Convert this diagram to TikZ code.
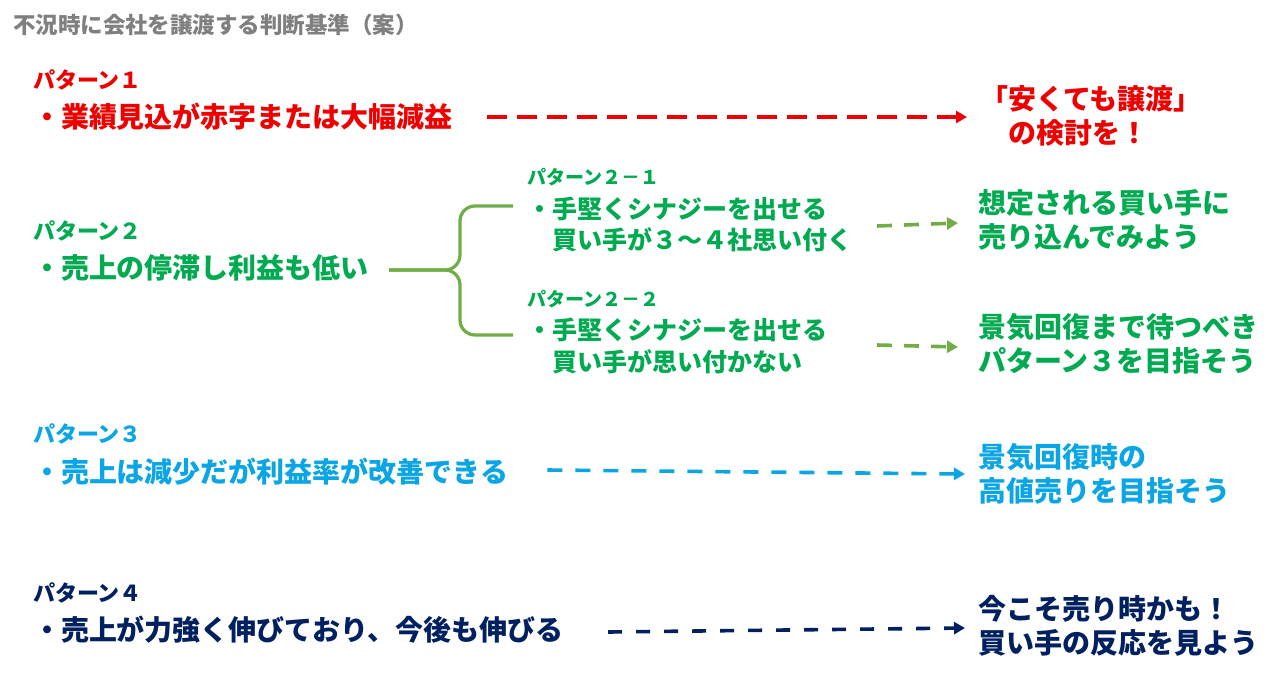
\documentclass[tikz,border=0pt]{standalone}
\usepackage{fontspec}
\setmainfont{Noto Sans CJK JP}
\usetikzlibrary{arrows.meta}
\definecolor{cred}{RGB}{238,0,0}
\definecolor{cgreen}{RGB}{0,170,80}
\definecolor{cbrace}{HTML}{70AD47}
\definecolor{cblue}{RGB}{10,165,228}
\definecolor{cnavy}{HTML}{002060}
\definecolor{cgray}{HTML}{7F7F7F}
\tikzset{
  txt/.style={anchor=west, inner sep=0pt, outer sep=0pt, align=left, font=\bfseries},
  big/.style={txt, font=\fontsize{28}{34}\selectfont\bfseries},
  mid/.style={txt, font=\fontsize{25}{31.5}\selectfont\bfseries},
  lab/.style={txt, font=\fontsize{22}{26}\selectfont\bfseries},
  sublab/.style={txt, font=\fontsize{19}{23}\selectfont\bfseries},
  darrow/.style={line width=3.6pt, -{Triangle[length=11pt,width=12pt]}},
}
\begin{document}
\begin{tikzpicture}[x=1pt,y=-1pt]
\useasboundingbox (0,0) rectangle (1275,678);

% title
\node[txt, font=\fontsize{22.5}{26}\selectfont\bfseries, text=cgray] (title) at (13,25) {不況時に会社を譲渡する判断基準（案）};

% pattern 1
\node[lab, text=cred] (p1) at (33,80) {パターン１};
\node[big, text=cred] (m1) at (33,117) {・業績見込が赤字または大幅減益};
\node[big, text=cred] (r1) at (980,116) {「安くても譲渡」\\　の検討を！};
\draw[darrow, cred, dash pattern=on 20pt off 10pt] ([xshift=34pt]m1.east) -- ([xshift=-13pt]r1.west |- m1.east);

% pattern 2
\node[lab, text=cgreen] (p2) at (33,231) {パターン２};
\node[big, text=cgreen] (m2) at (33,268) {・売上の停滞し利益も低い};
\node[sublab, text=cgreen] (p21) at (527,177) {パターン２－１};
\node[mid, text=cgreen] (s21) at (527,224.5) {・手堅くシナジーを出せる\\　買い手が３～４社思い付く};
\node[sublab, text=cgreen] (p22) at (527,299) {パターン２－２};
\node[mid, text=cgreen] (s22) at (527,346) {・手堅くシナジーを出せる\\　買い手が思い付かない};
\node[big, text=cgreen] (r21) at (978,220) {想定される買い手に\\売り込んでみよう};
\node[big, text=cgreen] (r22) at (978,344) {景気回復まで待つべき\\パターン３を目指そう};

\coordinate (bk) at ([xshift=20pt,yshift=-2pt]m2.east);
\coordinate (bt) at (513,206);
\coordinate (bb) at (513,335);
\draw[cbrace, line width=3.2pt, rounded corners=15pt] (bk) -- (460,270) -- (460,206) -- (bt);
\draw[cbrace, line width=3.2pt, rounded corners=15pt] (bk) -- (460,270) -- (460,335) -- (bb);

\draw[darrow, cbrace, dash pattern=on 15pt off 12pt] ([xshift=25pt,yshift=-1.5pt]s21.east) -- ([xshift=-20pt]r21.west |- 0,223);
\draw[darrow, cbrace, dash pattern=on 15pt off 12pt] ([xshift=50pt,yshift=1pt]s22.east) -- ([xshift=-20pt]r22.west |- 0,347);

% pattern 3
\node[lab, text=cblue] (p3) at (33,434) {パターン３};
\node[big, text=cblue] (m3) at (33,472) {・売上は減少だが利益率が改善できる};
\node[big, text=cblue] (r3) at (978,474) {景気回復時の\\高値売りを目指そう};
\draw[darrow, cblue, dash pattern=on 15pt off 13pt] ([xshift=39pt,yshift=2pt]m3.east) -- ([xshift=-13pt]r3.west);

% pattern 4
\node[lab, text=cnavy] (p4) at (33,593) {パターン４};
\node[big, text=cnavy] (m4) at (33,630) {・売上が力強く伸びており、今後も伸びる};
\node[big, text=cnavy] (r4) at (978,626) {今こそ売り時かも！\\買い手の反応を見よう};
\draw[darrow, cnavy, dash pattern=on 14pt off 14pt] ([xshift=45pt,yshift=-2pt]m4.east) -- ([xshift=-13pt]r4.west |- 0,628);
\end{tikzpicture}
\end{document}
